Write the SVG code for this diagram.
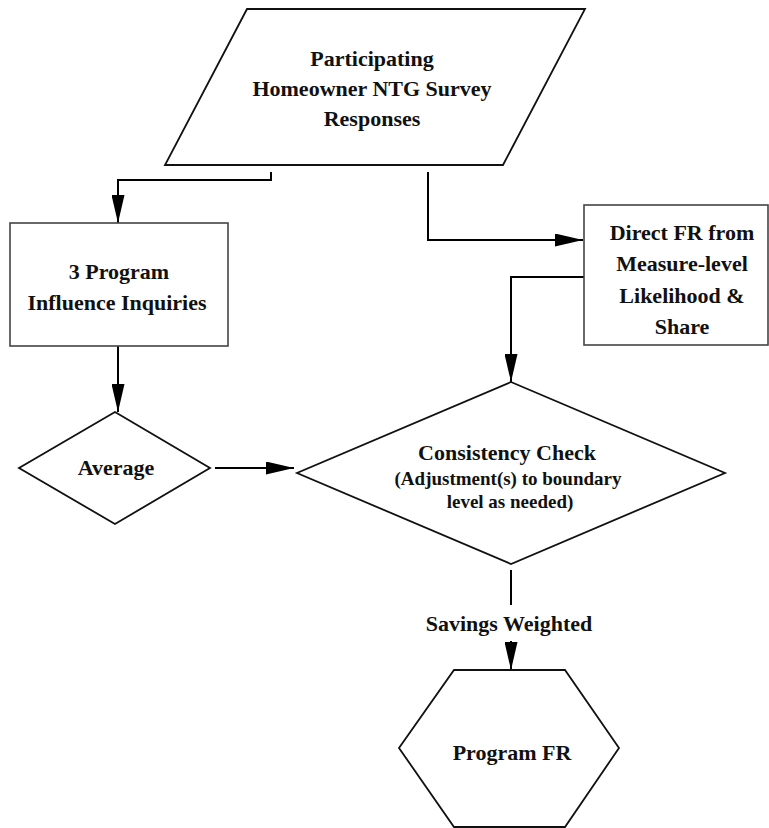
<svg xmlns="http://www.w3.org/2000/svg" width="769" height="828" viewBox="0 0 769 828">
<defs>
<marker id="ah" markerUnits="userSpaceOnUse" markerWidth="28" markerHeight="13" refX="28" refY="6.5" orient="auto">
<path d="M0,0 L28,6.5 L0,13 z" fill="#000"/>
</marker>
<style>
.shape{fill:#fff;stroke:#111;stroke-width:1.8}
.box{fill:#fff;stroke:#444;stroke-width:1.6}
.conn{fill:none;stroke:#000;stroke-width:2}
text{font-family:"Liberation Serif","Times New Roman",serif;font-weight:bold;font-size:22px;fill:#111;text-anchor:middle}
.small{font-size:19px}
</style>
</defs>
<rect width="769" height="828" fill="#fff"/>
<g id="connectors">
<path class="conn" d="M271,172 V180 H118 V223" marker-end="url(#ah)"/>
<path class="conn" d="M428,172 V240 H583" marker-end="url(#ah)"/>
<path class="conn" d="M585,277 H511 V382" marker-end="url(#ah)"/>
<path class="conn" d="M118,346 V412" marker-end="url(#ah)"/>
<path class="conn" d="M215,468 H294" marker-end="url(#ah)"/>
<path class="conn" d="M511,570 V605"/>
<path class="conn" d="M511,641 V670" marker-end="url(#ah)"/>
<text x="509" y="631">Savings Weighted</text>
</g>
<g id="survey">
<polygon class="shape" points="247,9 585,9 503,165 165,165"/>
<text x="372" y="66">Participating</text>
<text x="372" y="96">Homeowner NTG Survey</text>
<text x="372" y="126">Responses</text>
</g>
<g id="inquiries">
<rect class="box" x="10" y="223" width="218" height="123"/>
<text x="119" y="279">3 Program</text>
<text x="117" y="310">Influence Inquiries</text>
</g>
<g id="directfr">
<rect class="box" x="584" y="205" width="184" height="140"/>
<text x="682" y="240">Direct FR from</text>
<text x="682" y="271">Measure-level</text>
<text x="682" y="303">Likelihood &amp;</text>
<text x="682" y="334">Share</text>
</g>
<g id="average">
<polygon class="shape" points="115,412 210,468 115,524 19,468"/>
<text x="116" y="475">Average</text>
</g>
<g id="consistency">
<polygon class="shape" points="511,382 725,473 511,564 297,473"/>
<text x="507" y="460">Consistency Check</text>
<text class="small" x="508" y="485">(Adjustment(s) to boundary</text>
<text class="small" x="510" y="508">level as needed)</text>
</g>
<g id="programfr">
<polygon class="shape" points="454,670 565,670 619,748 565,827 454,827 399,748"/>
<text x="512" y="760">Program FR</text>
</g>
</svg>
